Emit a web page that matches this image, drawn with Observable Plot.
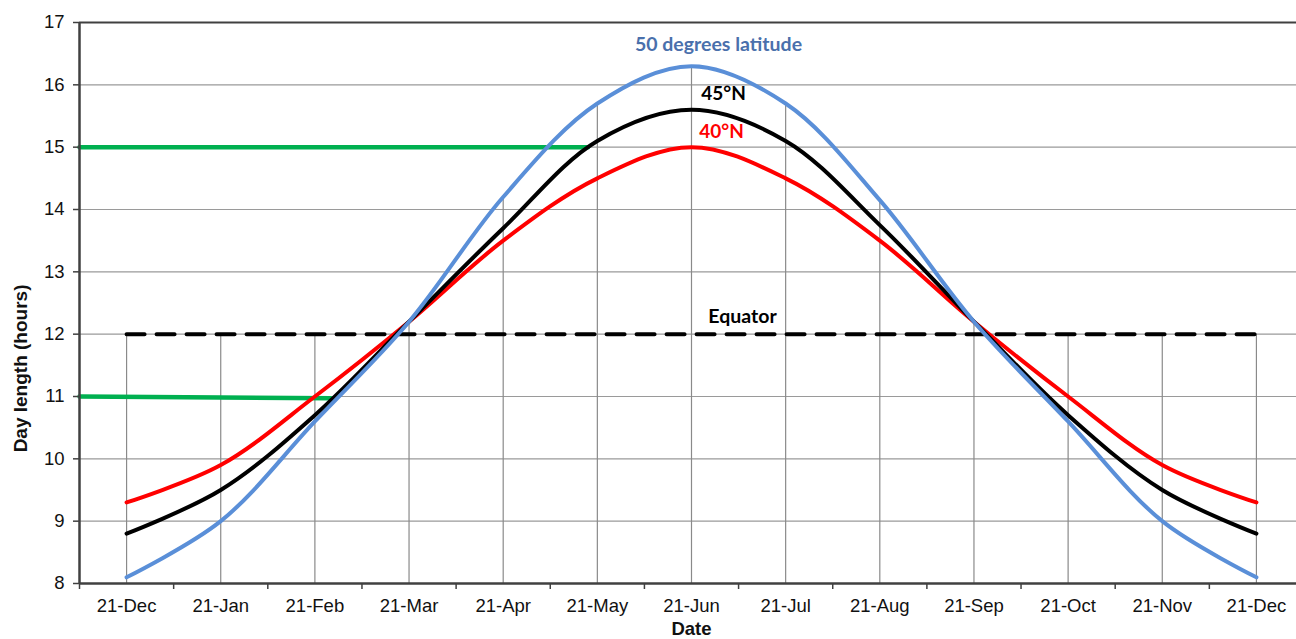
<!DOCTYPE html>
<html>
<head>
<meta charset="utf-8">
<script src="https://cdn.jsdelivr.net/npm/d3@7"></script>
<script src="https://cdn.jsdelivr.net/npm/@observablehq/plot@0.6"></script>
<style>
  html, body { margin: 0; padding: 0; background: #fff; overflow: hidden; }
  #chart svg { display: block; overflow: hidden; }
</style>
</head>
<body>
<div id="chart"></div>
<script>
// Category labels (x axis)
const months = ["21-Dec","21-Jan","21-Feb","21-Mar","21-Apr","21-May","21-Jun","21-Jul","21-Aug","21-Sep","21-Oct","21-Nov","21-Dec"];
// Day length (hours) by latitude
const lat50 = [8.1, 9.0, 10.6, 12.2, 14.2, 15.7, 16.3, 15.7, 14.15, 12.2, 10.6, 9.0, 8.1];
const lat45 = [8.8, 9.5, 10.7, 12.2, 13.7, 15.1, 15.6, 15.1, 13.75, 12.2, 10.7, 9.5, 8.8];
const lat40 = [9.3, 9.9, 11.0, 12.2, 13.5, 14.5, 15.0, 14.5, 13.5, 12.2, 11.0, 9.9, 9.3];
const equator = [12, 12, 12, 12, 12, 12, 12, 12, 12, 12, 12, 12, 12];
// Green reference lines (x in category index units, y in hours)
const green15 = [{x: -0.5, y: 15}, {x: 4.9, y: 15}];
const green11 = [{x: -0.5, y: 11}, {x: 2.17, y: 10.97}];
// Y ticks
const yTicks = [8, 9, 10, 11, 12, 13, 14, 15, 16, 17];
const yGrid = [9, 10, 11, 12, 13, 14, 15, 16];

const idx = months.map((m, i) => i);
const toRows = arr => arr.map((v, i) => ({i, v}));
const drops = idx.map(i => ({i, top: d3.max([lat50[i], lat45[i], lat40[i], equator[i]])}));
const boundaries = d3.range(-0.5, 13, 1);
const labelFont = "Lato, 'Open Sans', sans-serif";

const chart = Plot.plot({
  width: 1296,
  height: 639,
  marginTop: 22,
  marginBottom: 56,
  marginLeft: 79,
  marginRight: 0,
  x: {type: "linear", domain: [-0.5, 12.5], range: [79, 1303]},
  y: {domain: [8, 17], range: [583, 22]},
  style: {fontFamily: "'Liberation Sans', Arial, sans-serif", fontSize: "18.5px", color: "#111", background: "#fff"},
  marks: [
    Plot.ruleY(yGrid, {stroke: "#9a9a9a", strokeWidth: 1.2}),
    Plot.ruleX(drops, {x: "i", y1: 8, y2: "top", stroke: "#8a8a8a", strokeWidth: 1.2}),
    Plot.lineY(toRows(equator), {x: "i", y: "v", stroke: "#000", strokeWidth: 4, strokeDasharray: "18,12"}),
    Plot.line(green15, {x: "x", y: "y", stroke: "#00B050", strokeWidth: 4.5}),
    Plot.line(green11, {x: "x", y: "y", stroke: "#00B050", strokeWidth: 4.5}),
    Plot.lineY(toRows(lat40), {x: "i", y: "v", stroke: "#FF0000", strokeWidth: 4, curve: "catmull-rom"}),
    Plot.lineY(toRows(lat45), {x: "i", y: "v", stroke: "#000", strokeWidth: 4, curve: "catmull-rom"}),
    Plot.lineY(toRows(lat50), {x: "i", y: "v", stroke: "#5A8FD8", strokeWidth: 4, curve: "catmull-rom"}),
    // frame lines
    Plot.ruleY([17], {stroke: "#404040", strokeWidth: 2}),
    Plot.ruleY([8], {stroke: "#404040", strokeWidth: 2.5}),
    Plot.ruleX([-0.5], {stroke: "#404040", strokeWidth: 2.5}),
    // axes
    Plot.axisY({ticks: yTicks, tickSize: 6, tickPadding: 9, stroke: "#404040", strokeWidth: 1.5, label: null}),
    Plot.axisX({ticks: boundaries, tickSize: 6, tickFormat: () => "", stroke: "#404040", strokeWidth: 1.5, label: null}),
    Plot.axisX({ticks: idx, tickSize: 0, tickPadding: 15, tickFormat: i => months[i], label: null}),
    Plot.text([{x: 6, y: 8, t: "Date"}], {x: "x", y: "y", text: "t", dy: 46, fontWeight: "bold", fontSize: 18.5, fill: "#111"}),
    Plot.text([{x: -0.5, y: 11.45, t: "Day length (hours)"}], {x: "x", y: "y", text: "t", rotate: -90, dx: -59, fontWeight: "bold", fontSize: 19, fill: "#111"}),
    // series labels
    Plot.text([{i: 6, v: lat50[6], t: "50 degrees latitude"}], {x: "i", y: "v", text: "t", dx: 27, dy: -21, fill: "#4A70AC", fontWeight: "bold", fontSize: 19.5, fontFamily: labelFont}),
    Plot.text([{i: 6, v: lat45[6], t: "45°N"}], {x: "i", y: "v", text: "t", dx: 32, dy: -16, fill: "#000", fontWeight: "bold", fontSize: 19, fontFamily: labelFont}),
    Plot.text([{i: 6, v: lat40[6], t: "40°N"}], {x: "i", y: "v", text: "t", dx: 30, dy: -15, fill: "#FF0000", fontWeight: "bold", fontSize: 19, fontFamily: labelFont}),
    Plot.text([{i: 6, v: equator[6], t: "Equator"}], {x: "i", y: "v", text: "t", dx: 51, dy: -17, fill: "#000", fontWeight: "bold", fontSize: 19.5, fontFamily: labelFont})
  ]
});
document.getElementById("chart").appendChild(chart);
</script>
</body>
</html>
